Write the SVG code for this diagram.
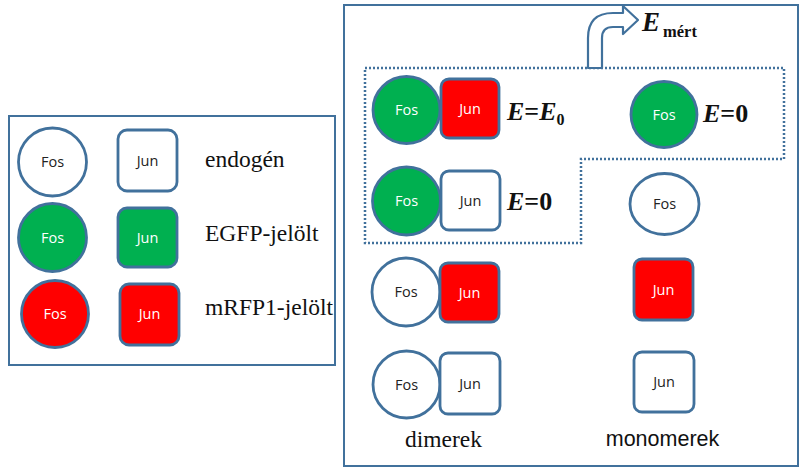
<svg xmlns="http://www.w3.org/2000/svg" width="802" height="468" viewBox="0 0 802 468">
<style>
.box{fill:#fff;stroke:#41719C;stroke-width:2}
.sh{stroke:#41719C;stroke-width:2.8}
.w{fill:#fff}
.g{fill:#00B050}
.r{fill:#FF0000}
.lbl{font-family:"Open Sans","Liberation Sans",sans-serif;font-size:14.5px;text-anchor:middle}
.lw{fill:#fff}
.lk{fill:#222}
.ser{font-family:"Liberation Serif",serif;font-size:23.5px;fill:#111}
.eq{font-family:"Liberation Serif",serif;font-weight:bold;fill:#111}
</style>
<rect width="802" height="468" fill="#fff"/>
<rect class="box" x="9" y="116" width="326" height="249"/>
<rect class="box" x="344" y="5" width="454" height="461"/>

<g id="legend-endogen">
<circle class="sh w" cx="52.5" cy="162" r="34"/>
<text class="lbl lk" x="52.5" y="167">Fos</text>
<rect class="sh w" x="118" y="130" width="59" height="61" rx="9"/>
<text class="lbl lk" x="147.5" y="165.5">Jun</text>
<text class="ser" x="205" y="167">endogén</text>
</g>
<g id="legend-egfp">
<circle class="sh g" cx="52.5" cy="237.5" r="34"/>
<text class="lbl lw" x="52.5" y="242.5">Fos</text>
<rect class="sh g" x="118" y="208" width="59" height="59" rx="9"/>
<text class="lbl lw" x="147.5" y="242.5">Jun</text>
<text class="ser" x="205" y="241">EGFP-jelölt</text>
</g>
<g id="legend-mrfp">
<circle class="sh r" cx="55" cy="314" r="33.5"/>
<text class="lbl lw" x="55" y="319">Fos</text>
<rect class="sh r" x="120" y="284" width="59" height="61" rx="9"/>
<text class="lbl lw" x="149.5" y="319">Jun</text>
<text class="ser" x="205" y="315">mRFP1-jelölt</text>
</g>

<g id="connectors">
<path d="M365,68 H784 V159 H581 V243 H365 Z" fill="none" stroke="#41719C" stroke-width="2.5" stroke-dasharray="2 2"/>
<path d="M588,68 L588,38 Q588,13 613,13 L623,13 L623,6 L638,20 L623,34 L623,27 L613,27 Q602,27 602,38 L602,68 Z" fill="#fff" stroke="#41719C" stroke-width="2.2" stroke-linejoin="round"/>
</g>

<g id="emert">
<text class="eq" x="642" y="31" font-size="27" font-style="italic">E</text>
<text class="eq" x="663" y="37" font-size="16.5">mért</text>
</g>

<g id="dimer-gfp-rfp">
<circle class="sh g" cx="406.5" cy="110" r="33.5"/>
<text class="lbl lw" x="406.5" y="115">Fos</text>
<rect class="sh r" x="441" y="79" width="58" height="59" rx="8"/>
<text class="lbl lw" x="470" y="113.5">Jun</text>
<text class="eq" x="507" y="120" font-size="26"><tspan font-style="italic">E</tspan>=<tspan font-style="italic">E</tspan><tspan font-size="16" dy="5">0</tspan></text>
</g>
<g id="dimer-gfp-endo">
<circle class="sh g" cx="406.5" cy="201" r="34"/>
<text class="lbl lw" x="406.5" y="206">Fos</text>
<rect class="sh w" x="441" y="171" width="59" height="59" rx="8"/>
<text class="lbl lk" x="470.5" y="205.5">Jun</text>
<text class="eq" x="507" y="210" font-size="26"><tspan font-style="italic">E</tspan>=0</text>
</g>
<g id="dimer-endo-rfp">
<circle class="sh w" cx="406" cy="292" r="34"/>
<text class="lbl lk" x="406" y="297">Fos</text>
<rect class="sh r" x="440" y="263" width="59" height="59" rx="8"/>
<text class="lbl lw" x="469.5" y="297.5">Jun</text>
</g>
<g id="dimer-endo-endo">
<circle class="sh w" cx="406.5" cy="384.5" r="33.5"/>
<text class="lbl lk" x="406.5" y="389.5">Fos</text>
<rect class="sh w" x="440" y="353" width="60" height="61" rx="8"/>
<text class="lbl lk" x="470" y="388.5">Jun</text>
</g>
<g id="mono-gfp-fos">
<circle class="sh g" cx="664" cy="114.5" r="33"/>
<text class="lbl lw" x="664" y="119.5">Fos</text>
<text class="eq" x="703" y="122" font-size="26"><tspan font-style="italic">E</tspan>=0</text>
</g>
<g id="mono-endo-fos">
<ellipse class="sh w" cx="664.5" cy="204" rx="34.5" ry="30.5"/>
<text class="lbl lk" x="664.5" y="209">Fos</text>
</g>
<g id="mono-rfp-jun">
<rect class="sh r" x="634" y="259" width="59" height="61" rx="8"/>
<text class="lbl lw" x="663.5" y="294.5">Jun</text>
</g>
<g id="mono-endo-jun">
<rect class="sh w" x="634" y="352" width="60" height="60" rx="8"/>
<text class="lbl lk" x="664" y="387">Jun</text>
</g>
<text class="ser" x="443.5" y="447" text-anchor="middle">dimerek</text>
<text x="662.5" y="446" text-anchor="middle" font-family="Liberation Sans,sans-serif" font-size="21.5" fill="#111">monomerek</text>
</svg>
